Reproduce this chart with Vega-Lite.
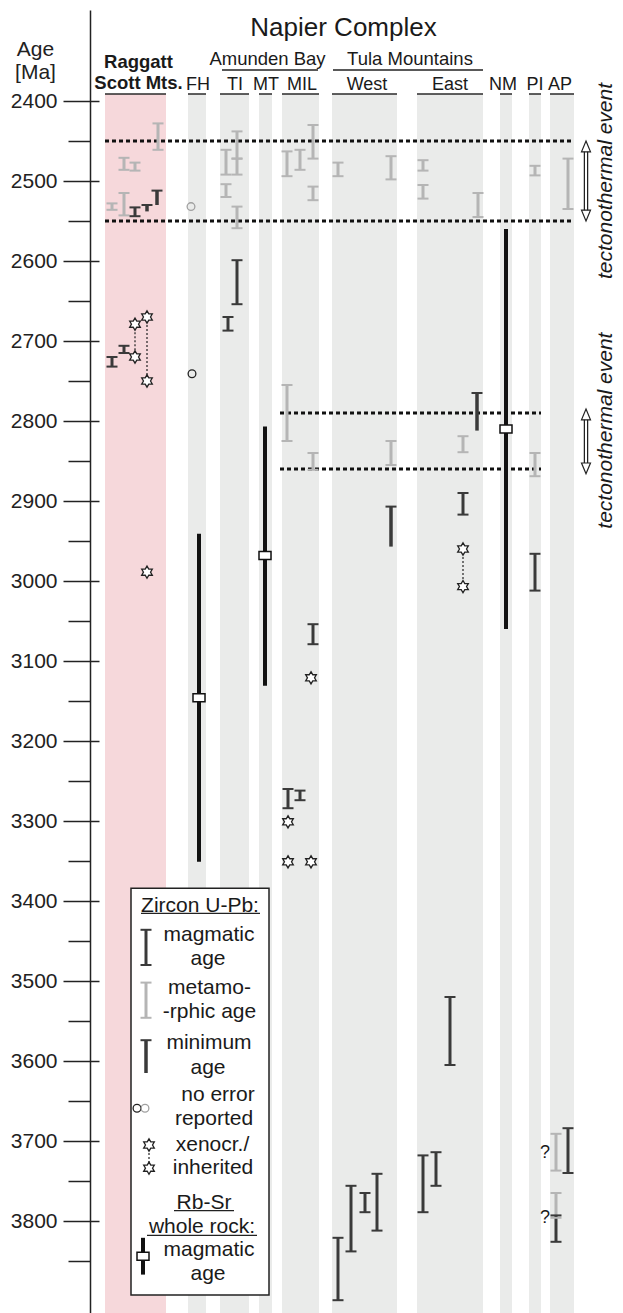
{
  "$schema": "https://vega.github.io/schema/vega-lite/v6.json",
  "width": 533,
  "height": 1303,
  "autosize": {"type": "none"},
  "padding": {"left": 90, "top": 10, "right": 0, "bottom": 0},
  "background": "white",
  "config": {"font": "Liberation Sans", "view": {"stroke": null}, "axis": {"grid": false}},
  "datasets": {
    "bands": [
      {"col": "Raggatt Scott Mts.", "x1": 105, "x2": 166, "kind": "raggatt"},
      {"col": "FH", "x1": 188, "x2": 206, "kind": "napier"},
      {"col": "TI", "x1": 220, "x2": 249, "kind": "napier"},
      {"col": "MT", "x1": 259, "x2": 272, "kind": "napier"},
      {"col": "MIL", "x1": 282, "x2": 319, "kind": "napier"},
      {"col": "West", "x1": 332, "x2": 397, "kind": "napier"},
      {"col": "East", "x1": 417, "x2": 483, "kind": "napier"},
      {"col": "NM", "x1": 500, "x2": 512, "kind": "napier"},
      {"col": "PI", "x1": 529, "x2": 541, "kind": "napier"},
      {"col": "AP", "x1": 550, "x2": 574, "kind": "napier"}
    ],
    "legendbox": [{"x1": 131, "x2": 269, "top": 3384, "bottom": 3892.5}],
    "lines": [
      {"what": "Amunden Bay", "x1": 222, "x2": 318, "a": 2361.25},
      {"what": "Tula Mountains", "x1": 333, "x2": 483, "a": 2361.25},
      {"what": "Zircon U-Pb:", "x1": 141, "x2": 260, "a": 3415.4},
      {"what": "Rb-Sr", "x1": 174, "x2": 234, "a": 3787},
      {"what": "whole rock:", "x1": 147, "x2": 257, "a": 3818}
    ],
    "events": [
      {"a": 2450, "x1": 105, "x2": 573},
      {"a": 2550, "x1": 105, "x2": 573},
      {"a": 2790, "x1": 280, "x2": 541},
      {"a": 2860, "x1": 280, "x2": 541}
    ],
    "zircon": [
      {"col": "Raggatt", "pos": 158, "lo": 2428, "hi": 2461, "type": "metamorphic"},
      {"col": "Raggatt", "pos": 124, "lo": 2471, "hi": 2486, "type": "metamorphic"},
      {"col": "Raggatt", "pos": 135, "lo": 2477, "hi": 2487, "type": "metamorphic"},
      {"col": "Raggatt", "pos": 112, "lo": 2528, "hi": 2536, "type": "metamorphic"},
      {"col": "Raggatt", "pos": 124, "lo": 2515, "hi": 2543, "type": "metamorphic"},
      {"col": "Raggatt", "pos": 135, "lo": 2533, "hi": 2544, "type": "magmatic"},
      {"col": "Raggatt", "pos": 147, "lo": 2530, "hi": 2538, "type": "minimum"},
      {"col": "Raggatt", "pos": 157, "lo": 2512, "hi": 2530, "type": "minimum"},
      {"col": "Raggatt", "pos": 112, "lo": 2720, "hi": 2732, "type": "magmatic"},
      {"col": "Raggatt", "pos": 124, "lo": 2706, "hi": 2715, "type": "magmatic"},
      {"col": "TI", "pos": 237, "lo": 2438, "hi": 2472, "type": "metamorphic"},
      {"col": "TI", "pos": 226, "lo": 2461, "hi": 2492, "type": "metamorphic"},
      {"col": "TI", "pos": 237, "lo": 2472, "hi": 2492, "type": "metamorphic"},
      {"col": "TI", "pos": 226, "lo": 2504, "hi": 2520, "type": "metamorphic"},
      {"col": "TI", "pos": 237, "lo": 2532, "hi": 2559, "type": "metamorphic"},
      {"col": "TI", "pos": 237, "lo": 2599, "hi": 2654, "type": "magmatic"},
      {"col": "TI", "pos": 228, "lo": 2670, "hi": 2687, "type": "magmatic"},
      {"col": "MIL", "pos": 287, "lo": 2463, "hi": 2494, "type": "metamorphic"},
      {"col": "MIL", "pos": 300, "lo": 2461, "hi": 2486, "type": "metamorphic"},
      {"col": "MIL", "pos": 313, "lo": 2430, "hi": 2472, "type": "metamorphic"},
      {"col": "MIL", "pos": 313, "lo": 2507, "hi": 2524, "type": "metamorphic"},
      {"col": "MIL", "pos": 287, "lo": 2755, "hi": 2825, "type": "metamorphic"},
      {"col": "MIL", "pos": 313, "lo": 2840, "hi": 2861, "type": "metamorphic"},
      {"col": "MIL", "pos": 313, "lo": 3054, "hi": 3079, "type": "magmatic"},
      {"col": "MIL", "pos": 288, "lo": 3260, "hi": 3284, "type": "magmatic"},
      {"col": "MIL", "pos": 300, "lo": 3262, "hi": 3274, "type": "magmatic"},
      {"col": "West", "pos": 338, "lo": 2477, "hi": 2494, "type": "metamorphic"},
      {"col": "West", "pos": 391, "lo": 2469, "hi": 2498, "type": "metamorphic"},
      {"col": "West", "pos": 391, "lo": 2825, "hi": 2855, "type": "metamorphic"},
      {"col": "West", "pos": 391, "lo": 2907, "hi": 2957, "type": "minimum"},
      {"col": "West", "pos": 338, "lo": 3821, "hi": 3899, "type": "magmatic"},
      {"col": "West", "pos": 351, "lo": 3756, "hi": 3838, "type": "magmatic"},
      {"col": "West", "pos": 365, "lo": 3765, "hi": 3789, "type": "magmatic"},
      {"col": "West", "pos": 377, "lo": 3741, "hi": 3812, "type": "magmatic"},
      {"col": "East", "pos": 423, "lo": 2474, "hi": 2487, "type": "metamorphic"},
      {"col": "East", "pos": 423, "lo": 2505, "hi": 2522, "type": "metamorphic"},
      {"col": "East", "pos": 478, "lo": 2515, "hi": 2545, "type": "metamorphic"},
      {"col": "East", "pos": 477, "lo": 2765, "hi": 2812, "type": "minimum"},
      {"col": "East", "pos": 463, "lo": 2819, "hi": 2839, "type": "metamorphic"},
      {"col": "East", "pos": 463, "lo": 2890, "hi": 2917, "type": "magmatic"},
      {"col": "East", "pos": 450, "lo": 3520, "hi": 3605, "type": "magmatic"},
      {"col": "East", "pos": 423, "lo": 3718, "hi": 3789, "type": "magmatic"},
      {"col": "East", "pos": 436, "lo": 3714, "hi": 3756, "type": "magmatic"},
      {"col": "PI", "pos": 535, "lo": 2481, "hi": 2493, "type": "metamorphic"},
      {"col": "PI", "pos": 535, "lo": 2840, "hi": 2869, "type": "metamorphic"},
      {"col": "PI", "pos": 535, "lo": 2966, "hi": 3012, "type": "magmatic"},
      {"col": "AP", "pos": 568, "lo": 2472, "hi": 2535, "type": "metamorphic"},
      {"col": "AP", "pos": 556, "lo": 3691, "hi": 3737, "type": "metamorphic"},
      {"col": "AP", "pos": 568, "lo": 3684, "hi": 3740, "type": "magmatic"},
      {"col": "AP", "pos": 556, "lo": 3765, "hi": 3796, "type": "metamorphic"},
      {"col": "AP", "pos": 556, "lo": 3793, "hi": 3826, "type": "magmatic"},
      {"col": "legend", "pos": 146, "lo": 3436, "hi": 3480, "type": "magmatic"},
      {"col": "legend", "pos": 146, "lo": 3502, "hi": 3546, "type": "metamorphic"},
      {"col": "legend", "pos": 146, "lo": 3574, "hi": 3615, "type": "minimum"}
    ],
    "rbsr": [
      {"col": "FH", "pos": 199, "lo": 2941, "hi": 3351, "mid": 3146},
      {"col": "MT", "pos": 265, "lo": 2807, "hi": 3131, "mid": 2968},
      {"col": "NM", "pos": 506, "lo": 2560, "hi": 3060, "mid": 2810},
      {"col": "legend", "pos": 143, "lo": 3821, "hi": 3867, "mid": 3844}
    ],
    "links": [
      {"col": "Raggatt", "pos": 135, "a1": 2679, "a2": 2720},
      {"col": "Raggatt", "pos": 147, "a1": 2670, "a2": 2750},
      {"col": "East", "pos": 463, "a1": 2960, "a2": 3007},
      {"col": "legend", "pos": 149, "a1": 3705, "a2": 3734}
    ],
    "stars": [
      {"col": "Raggatt", "pos": 135, "age": 2679},
      {"col": "Raggatt", "pos": 135, "age": 2720},
      {"col": "Raggatt", "pos": 147, "age": 2670},
      {"col": "Raggatt", "pos": 147, "age": 2750},
      {"col": "Raggatt", "pos": 147, "age": 2989},
      {"col": "MIL", "pos": 311, "age": 3121},
      {"col": "MIL", "pos": 288, "age": 3301},
      {"col": "MIL", "pos": 288, "age": 3351},
      {"col": "MIL", "pos": 311, "age": 3351},
      {"col": "East", "pos": 463, "age": 2960},
      {"col": "East", "pos": 463, "age": 3007},
      {"col": "legend", "pos": 149, "age": 3705},
      {"col": "legend", "pos": 149, "age": 3734}
    ],
    "circles": [
      {"col": "FH", "pos": 191, "age": 2532, "shade": "metamorphic"},
      {"col": "FH", "pos": 192, "age": 2741, "shade": "magmatic"},
      {"col": "legend", "pos": 137, "age": 3659, "shade": "magmatic"},
      {"col": "legend", "pos": 145, "age": 3659, "shade": "metamorphic"}
    ],
    "arrows": [
      {"pos": 586, "from": 2450, "to": 2550},
      {"pos": 586, "from": 2785, "to": 2866}
    ],
    "texts": [
      {"role": "title", "label": "Napier Complex", "pos": 343.5, "age": 2318.75},
      {"role": "bold", "label": "Raggatt", "pos": 138.5, "age": 2358.75},
      {"role": "bold", "label": "Scott Mts.", "pos": 138.5, "age": 2385},
      {"role": "group", "label": "Amunden Bay", "pos": 267.5, "age": 2355},
      {"role": "group", "label": "Tula Mountains", "pos": 410, "age": 2355},
      {"role": "column", "label": "FH", "pos": 198, "age": 2386.25},
      {"role": "column", "label": "TI", "pos": 235, "age": 2386.25},
      {"role": "column", "label": "MT", "pos": 266, "age": 2386.25},
      {"role": "column", "label": "MIL", "pos": 302, "age": 2386.25},
      {"role": "column", "label": "West", "pos": 367, "age": 2386.25},
      {"role": "column", "label": "East", "pos": 450, "age": 2386.25},
      {"role": "column", "label": "NM", "pos": 503, "age": 2386.25},
      {"role": "column", "label": "PI", "pos": 535, "age": 2386.25},
      {"role": "column", "label": "AP", "pos": 560, "age": 2386.25},
      {"role": "event", "label": "tectonothermal event", "pos": 606, "age": 2500},
      {"role": "event", "label": "tectonothermal event", "pos": 606, "age": 2812},
      {"role": "query", "label": "?", "pos": 545, "age": 3715},
      {"role": "query", "label": "?", "pos": 545, "age": 3796},
      {"role": "legend", "label": "Zircon U-Pb:", "pos": 200, "age": 3406},
      {"role": "legend", "label": "magmatic", "pos": 209, "age": 3443},
      {"role": "legend", "label": "age", "pos": 208, "age": 3473},
      {"role": "legend", "label": "metamo-", "pos": 209.5, "age": 3509},
      {"role": "legend", "label": "-rphic age", "pos": 209.5, "age": 3539},
      {"role": "legend", "label": "minimum", "pos": 209, "age": 3577.5},
      {"role": "legend", "label": "age", "pos": 208, "age": 3609},
      {"role": "legend", "label": "no error", "pos": 218, "age": 3643},
      {"role": "legend", "label": "reported", "pos": 214, "age": 3673},
      {"role": "legend", "label": "xenocr./", "pos": 212.5, "age": 3705},
      {"role": "legend", "label": "inherited", "pos": 213, "age": 3734},
      {"role": "legend", "label": "Rb-Sr", "pos": 204, "age": 3777},
      {"role": "legend", "label": "whole rock:", "pos": 202, "age": 3807},
      {"role": "legend", "label": "magmatic", "pos": 209, "age": 3836},
      {"role": "legend", "label": "age", "pos": 208, "age": 3866}
    ]
  },
  "resolve": {"axis": {"y": "independent"}},
  "layer": [
    {
      "data": {"name": "bands"},
      "mark": {"type": "rect"},
      "encoding": {
        "x": {"field": "x1", "type": "quantitative", "scale": {"domain": [90, 623], "nice": false, "zero": false},
              "axis": {"orient": "top", "domainColor": "#222", "domainWidth": 1.5, "ticks": false, "labels": false, "title": null, "grid": false}},
        "x2": {"field": "x2"},
        "y": {"datum": 2391.25, "type": "quantitative", "scale": {"domain": [2286.25, 3915], "reverse": true, "nice": false, "zero": false}, "axis": null},
        "y2": {"datum": 3915},
        "color": {"condition": {"test": "datum.kind === 'raggatt'", "value": "#f6d8db"}, "value": "#eaebea"}
      }
    },
    {
      "data": {"name": "bands"},
      "mark": {"type": "rule", "color": "#2a2a2a", "strokeWidth": 1.5},
      "encoding": {
        "x": {"field": "x1", "type": "quantitative", "axis": null},
        "x2": {"field": "x2"},
        "y": {"datum": 2391.25, "type": "quantitative", "axis": null}
      }
    },
    {
      "data": {"name": "legendbox"},
      "mark": {"type": "rect", "fill": "white", "stroke": "#222", "strokeWidth": 1.5},
      "encoding": {
        "x": {"field": "x1", "type": "quantitative", "axis": null},
        "x2": {"field": "x2"},
        "y": {"field": "top", "type": "quantitative", "axis": null},
        "y2": {"field": "bottom"}
      }
    },
    {
      "data": {"name": "lines"},
      "mark": {"type": "rule", "color": "#222", "strokeWidth": 1.3},
      "encoding": {
        "x": {"field": "x1", "type": "quantitative", "axis": null},
        "x2": {"field": "x2"},
        "y": {"field": "a", "type": "quantitative", "axis": null}
      }
    },
    {
      "data": {"name": "events"},
      "mark": {"type": "rule", "color": "#111", "strokeWidth": 3, "strokeDash": [4, 3]},
      "encoding": {
        "x": {"field": "x1", "type": "quantitative", "axis": null},
        "x2": {"field": "x2"},
        "y": {"field": "a", "type": "quantitative", "axis": null}
      }
    },
    {
      "data": {"name": "zircon"},
      "mark": {"type": "rule"},
      "encoding": {
        "x": {"field": "pos", "type": "quantitative", "axis": null},
        "y": {"field": "lo", "type": "quantitative",
              "axis": {"orient": "left", "values": [2400, 2500, 2600, 2700, 2800, 2900, 3000, 3100, 3200, 3300, 3400, 3500, 3600, 3700, 3800], "format": "d",
                       "tickSize": 27, "tickWidth": 1.5, "tickColor": "#222", "domainColor": "#222", "domainWidth": 1.5,
                       "labelFontSize": 21, "labelPadding": 6, "labelColor": "#222", "labelFlush": false, "labelOverlap": false, "grid": false,
                       "title": ["Age", "[Ma]"], "titleAngle": 0, "titleX": -55, "titleY": 45, "titleAlign": "center", "titleBaseline": "alphabetic",
                       "titleFontSize": 21, "titleFontWeight": "normal", "titleLineHeight": 23, "titleColor": "#222"}},
        "y2": {"field": "hi"},
        "color": {"condition": {"test": "datum.type === 'metamorphic'", "value": "#b5b5b5"}, "value": "#3a3a3a"},
        "strokeWidth": {"condition": {"test": "datum.type === 'minimum'", "value": 3.5}, "value": 3}
      }
    },
    {
      "data": {"name": "zircon"},
      "transform": [
        {"fold": ["lo", "hi"], "as": ["end", "age"]},
        {"filter": "datum.type !== 'minimum' || datum.end === 'lo'"}
      ],
      "mark": {"type": "tick", "orient": "horizontal", "size": 11, "thickness": 2, "opacity": 1},
      "encoding": {
        "x": {"field": "pos", "type": "quantitative", "axis": null},
        "y": {"field": "age", "type": "quantitative",
              "axis": {"orient": "left", "values": [2450, 2550, 2650, 2750, 2850, 2950, 3050, 3150, 3250, 3350, 3450, 3550, 3650, 3750, 3850],
                       "tickSize": 22, "tickWidth": 1.5, "tickColor": "#222", "domain": false, "labels": false, "title": null, "grid": false}},
        "color": {"condition": {"test": "datum.type === 'metamorphic'", "value": "#b5b5b5"}, "value": "#3a3a3a"}
      }
    },
    {
      "data": {"name": "rbsr"},
      "mark": {"type": "rule", "color": "#111", "strokeWidth": 4},
      "encoding": {
        "x": {"field": "pos", "type": "quantitative", "axis": null},
        "y": {"field": "lo", "type": "quantitative", "axis": null},
        "y2": {"field": "hi"}
      }
    },
    {
      "data": {"name": "rbsr"},
      "mark": {"type": "point", "shape": "M-1,-0.667H1V0.667H-1Z", "filled": true, "fill": "white", "stroke": "#111", "strokeWidth": 1.5, "size": 144, "opacity": 1},
      "encoding": {
        "x": {"field": "pos", "type": "quantitative", "axis": null},
        "y": {"field": "mid", "type": "quantitative",
              "axis": {"orient": "right", "offset": -533, "values": [2400, 2500, 2600, 2700, 2800, 2900, 3000, 3100, 3200, 3300, 3400, 3500, 3600, 3700, 3800],
                       "tickSize": 9, "tickWidth": 1.5, "tickColor": "#222", "domain": false, "labels": false, "title": null, "grid": false}}
      }
    },
    {
      "data": {"name": "links"},
      "mark": {"type": "rule", "color": "#222", "strokeWidth": 1.2, "strokeDash": [2, 2]},
      "encoding": {
        "x": {"field": "pos", "type": "quantitative", "axis": null},
        "y": {"field": "a1", "type": "quantitative", "axis": null},
        "y2": {"field": "a2"}
      }
    },
    {
      "data": {"name": "stars"},
      "mark": {"type": "point", "shape": "M0,-1L0.289,-0.5L0.866,-0.5L0.577,0L0.866,0.5L0.289,0.5L0,1L-0.289,0.5L-0.866,0.5L-0.577,0L-0.866,-0.5L-0.289,-0.5Z",
               "filled": true, "fill": "white", "stroke": "#222", "strokeWidth": 1.3, "size": 150, "opacity": 1},
      "encoding": {
        "x": {"field": "pos", "type": "quantitative", "axis": null},
        "y": {"field": "age", "type": "quantitative", "axis": null}
      }
    },
    {
      "data": {"name": "circles"},
      "mark": {"type": "point", "shape": "circle", "filled": false, "strokeWidth": 1.3, "size": 60, "opacity": 1},
      "encoding": {
        "x": {"field": "pos", "type": "quantitative", "axis": null},
        "y": {"field": "age", "type": "quantitative", "axis": null},
        "color": {"condition": {"test": "datum.shade === 'metamorphic'", "value": "#a0a0a0"}, "value": "#222"}
      }
    },
    {
      "data": {"name": "arrows"},
      "mark": {"type": "rule", "color": "#222", "strokeWidth": 4.5, "yOffset": 10, "y2Offset": -10},
      "encoding": {
        "x": {"field": "pos", "type": "quantitative", "axis": null},
        "y": {"field": "from", "type": "quantitative", "axis": null},
        "y2": {"field": "to"}
      }
    },
    {
      "data": {"name": "arrows"},
      "mark": {"type": "rule", "color": "white", "strokeWidth": 2, "yOffset": 9, "y2Offset": -9},
      "encoding": {
        "x": {"field": "pos", "type": "quantitative", "axis": null},
        "y": {"field": "from", "type": "quantitative", "axis": null},
        "y2": {"field": "to"}
      }
    },
    {
      "data": {"name": "arrows"},
      "mark": {"type": "point", "shape": "M0,0L0.75,1.8L-0.75,1.8Z", "filled": true, "fill": "white", "stroke": "#222", "strokeWidth": 1.2, "size": 144, "opacity": 1},
      "encoding": {
        "x": {"field": "pos", "type": "quantitative", "axis": null},
        "y": {"field": "from", "type": "quantitative", "axis": null}
      }
    },
    {
      "data": {"name": "arrows"},
      "mark": {"type": "point", "shape": "M0,0L0.75,-1.8L-0.75,-1.8Z", "filled": true, "fill": "white", "stroke": "#222", "strokeWidth": 1.2, "size": 144, "opacity": 1},
      "encoding": {
        "x": {"field": "pos", "type": "quantitative", "axis": null},
        "y": {"field": "to", "type": "quantitative", "axis": null}
      }
    },
    {
      "data": {"name": "texts"},
      "transform": [{"filter": "datum.role === 'title'"}],
      "mark": {"type": "text", "fontSize": 26, "align": "center", "baseline": "alphabetic", "color": "#1a1a1a"},
      "encoding": {
        "x": {"field": "pos", "type": "quantitative", "axis": null},
        "y": {"field": "age", "type": "quantitative", "axis": null},
        "text": {"field": "label"}
      }
    },
    {
      "data": {"name": "texts"},
      "transform": [{"filter": "datum.role === 'bold'"}],
      "mark": {"type": "text", "fontSize": 18.5, "fontWeight": "bold", "align": "center", "baseline": "alphabetic", "color": "#1a1a1a"},
      "encoding": {
        "x": {"field": "pos", "type": "quantitative", "axis": null},
        "y": {"field": "age", "type": "quantitative", "axis": null},
        "text": {"field": "label"}
      }
    },
    {
      "data": {"name": "texts"},
      "transform": [{"filter": "datum.role === 'group'"}],
      "mark": {"type": "text", "fontSize": 18.5, "align": "center", "baseline": "alphabetic", "color": "#1a1a1a"},
      "encoding": {
        "x": {"field": "pos", "type": "quantitative", "axis": null},
        "y": {"field": "age", "type": "quantitative", "axis": null},
        "text": {"field": "label"}
      }
    },
    {
      "data": {"name": "texts"},
      "transform": [{"filter": "datum.role === 'column'"}],
      "mark": {"type": "text", "fontSize": 18, "align": "center", "baseline": "alphabetic", "color": "#1a1a1a"},
      "encoding": {
        "x": {"field": "pos", "type": "quantitative", "axis": null},
        "y": {"field": "age", "type": "quantitative", "axis": null},
        "text": {"field": "label"}
      }
    },
    {
      "data": {"name": "texts"},
      "transform": [{"filter": "datum.role === 'event'"}],
      "mark": {"type": "text", "fontSize": 21, "fontStyle": "italic", "angle": 270, "align": "center", "baseline": "middle", "color": "#1a1a1a"},
      "encoding": {
        "x": {"field": "pos", "type": "quantitative", "axis": null},
        "y": {"field": "age", "type": "quantitative", "axis": null},
        "text": {"field": "label"}
      }
    },
    {
      "data": {"name": "texts"},
      "transform": [{"filter": "datum.role === 'query'"}],
      "mark": {"type": "text", "fontSize": 18, "align": "center", "baseline": "middle", "color": "#1a1a1a"},
      "encoding": {
        "x": {"field": "pos", "type": "quantitative", "axis": null},
        "y": {"field": "age", "type": "quantitative", "axis": null},
        "text": {"field": "label"}
      }
    },
    {
      "data": {"name": "texts"},
      "transform": [{"filter": "datum.role === 'legend'"}],
      "mark": {"type": "text", "fontSize": 21, "align": "center", "baseline": "middle", "color": "#1a1a1a"},
      "encoding": {
        "x": {"field": "pos", "type": "quantitative", "axis": null},
        "y": {"field": "age", "type": "quantitative", "axis": null},
        "text": {"field": "label"}
      }
    }
  ]
}
